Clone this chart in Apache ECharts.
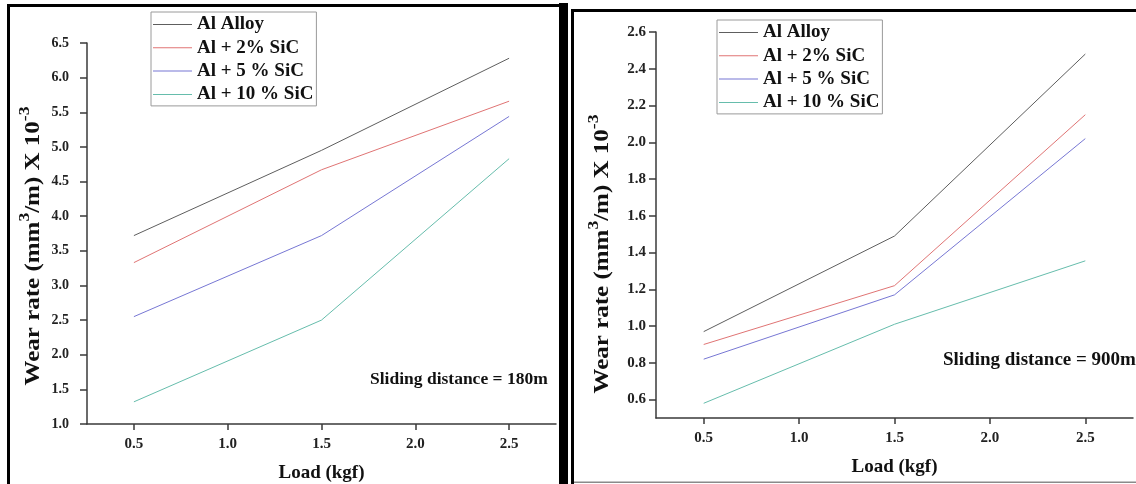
<!DOCTYPE html>
<html>
<head>
<meta charset="utf-8">
<script src="https://cdn.jsdelivr.net/npm/echarts@6/dist/echarts.min.js"></script>
<style>
html,body{margin:0;padding:0;background:#fff;}
#c{width:1136px;height:484px;}
</style>
</head>
<body>
<div id="c"></div>
<script>
// ---- data ----
var loads = [0.5, 1.5, 2.5];
var seriesNames = ['Al Alloy', 'Al + 2% SiC', 'Al + 5 % SiC', 'Al + 10 % SiC'];
// Sliding distance = 180 m
var wear180_alloy = [3.72, 4.95, 6.28];
var wear180_sic2  = [3.33, 4.67, 5.66];
var wear180_sic5  = [2.55, 3.72, 5.44];
var wear180_sic10 = [1.32, 2.50, 4.83];
// Sliding distance = 900 m
var wear900_alloy = [0.97, 1.49, 2.48];
var wear900_sic2  = [0.90, 1.22, 2.15];
var wear900_sic5  = [0.82, 1.17, 2.02];
var wear900_sic10 = [0.58, 1.01, 1.355];
// tick labels
var xTicks = [0.5, 1.0, 1.5, 2.0, 2.5];
var yTicksLeft = [1.0, 1.5, 2.0, 2.5, 3.0, 3.5, 4.0, 4.5, 5.0, 5.5, 6.0, 6.5];
var yTicksRight = [0.6, 0.8, 1.0, 1.2, 1.4, 1.6, 1.8, 2.0, 2.2, 2.4, 2.6];

var colors = ['#5e5e5e', '#e07474', '#7777d4', '#66bdac'];
var FF = '"Liberation Serif","Times New Roman",serif';

function pairs(vals) { return loads.map(function (x, i) { return [x, vals[i]]; }); }
var set180 = [wear180_alloy, wear180_sic2, wear180_sic5, wear180_sic10];
var set900 = [wear900_alloy, wear900_sic2, wear900_sic5, wear900_sic10];

var series = [];
[set180, set900].forEach(function (set, g) {
  set.forEach(function (vals, i) {
    series.push({
      type: 'line', name: seriesNames[i], xAxisIndex: g, yAxisIndex: g,
      data: pairs(vals), symbol: 'none', showSymbol: false, silent: true,
      lineStyle: { color: colors[i], width: 1 }, itemStyle: { color: colors[i] }
    });
  });
});

var axisLineStyle = { color: '#3a3a3a', width: 1.5 };
function xAxis(g) {
  return {
    type: 'value', gridIndex: g, min: 0.25, max: 2.75,
    splitLine: { show: false },
    axisLine: { show: true, lineStyle: axisLineStyle },
    axisTick: { show: true, inside: false, length: 6, lineStyle: axisLineStyle, customValues: xTicks },
    axisLabel: { customValues: xTicks, margin: 13, fontFamily: FF, fontWeight: 'bold', fontSize: 15, color: '#222',
      formatter: function (v) { return v.toFixed(1); } },
    name: 'Load (kgf)', nameLocation: 'middle', nameGap: 40,
    nameTextStyle: { fontFamily: FF, fontWeight: 'bold', fontSize: 19, color: '#111' }
  };
}
function yAxis(g) {
  var ticks = g === 0 ? yTicksLeft : yTicksRight;
  return {
    type: 'value', gridIndex: g,
    min: g === 0 ? 1.0 : 0.5, max: g === 0 ? 6.5 : 2.6,
    splitLine: { show: false },
    axisLine: { show: true, onZero: false, lineStyle: axisLineStyle },
    axisTick: { show: true, inside: false, length: 7, lineStyle: axisLineStyle, customValues: ticks },
    axisLabel: { customValues: ticks, margin: g === 0 ? 18 : 10, fontFamily: FF, fontWeight: 'bold',
      fontSize: g === 0 ? 14 : 15, color: '#222',
      formatter: function (v) { return v.toFixed(1); } }
  };
}

var legendText = { fontFamily: FF, fontWeight: 'bold', fontSize: 19, color: '#111', lineHeight: 21 };
function legend(left, top) {
  return {
    orient: 'vertical', left: left, top: top, data: seriesNames,
    itemWidth: 39, itemHeight: 14, itemGap: 2.3, padding: [2, 3, 1, 2],
    borderColor: '#9a9a9a', borderWidth: 1, selectedMode: false,
    textStyle: legendText, icon: 'path://M0,7L39,7L39,8L0,8Z'
  };
}

function yTitle(x, y) {
  return {
    type: 'text', x: x, y: y, rotation: Math.PI / 2, scaleX: 1.25, scaleY: 1,
    style: {
      text: '{m|Wear rate (mm}{s|3}{m|/m) X 10}{s|-3}',
      align: 'center', verticalAlign: 'middle',
      rich: {
        m: { fontFamily: FF, fontWeight: 'bold', fontSize: 20, lineHeight: 26, fill: '#111', verticalAlign: 'bottom' },
        s: { fontFamily: FF, fontWeight: 'bold', fontSize: 14, lineHeight: 14, fill: '#111', verticalAlign: 'top' }
      }
    }
  };
}

var option = {
  animation: false,
  backgroundColor: '#fff',
  color: colors,
  grid: [
    { left: 87, top: 43, width: 469, height: 381, outerBoundsMode: 'none', containLabel: false },
    { left: 656, top: 32, width: 477, height: 386, outerBoundsMode: 'none', containLabel: false }
  ],
  xAxis: [xAxis(0), xAxis(1)],
  yAxis: [yAxis(0), yAxis(1)],
  legend: [legend(151, 12), legend(717, 20)],
  series: series,
  graphic: [
    // panel frames
    { type: 'rect', shape: { x: 7, y: 4, width: 3, height: 480 }, style: { fill: '#000' }, silent: true },
    { type: 'rect', shape: { x: 7, y: 4, width: 553, height: 3 }, style: { fill: '#000' }, silent: true },
    { type: 'rect', shape: { x: 559, y: 3, width: 9, height: 481 }, style: { fill: '#000' }, silent: true },
    { type: 'rect', shape: { x: 571, y: 9, width: 3, height: 475 }, style: { fill: '#000' }, silent: true },
    { type: 'rect', shape: { x: 571, y: 9, width: 565, height: 3 }, style: { fill: '#000' }, silent: true },
    { type: 'rect', shape: { x: 574, y: 481.5, width: 562, height: 1.5 }, style: { fill: '#8a8a8a' }, silent: true },
    // axis titles
    yTitle(31, 246),
    yTitle(600, 254),
    // annotations
    { type: 'text', x: 370, y: 379, style: { text: 'Sliding distance = 180m', fontFamily: FF, fontWeight: 'bold', fontSize: 17.5, fill: '#111', align: 'left', verticalAlign: 'middle' } },
    { type: 'text', x: 943, y: 360, style: { text: 'Sliding distance = 900m', fontFamily: FF, fontWeight: 'bold', fontSize: 19, fill: '#111', align: 'left', verticalAlign: 'middle' } }
  ]
};

var chart = echarts.init(document.getElementById('c'), null, { renderer: 'canvas' });
chart.setOption(option);
</script>
</body>
</html>
